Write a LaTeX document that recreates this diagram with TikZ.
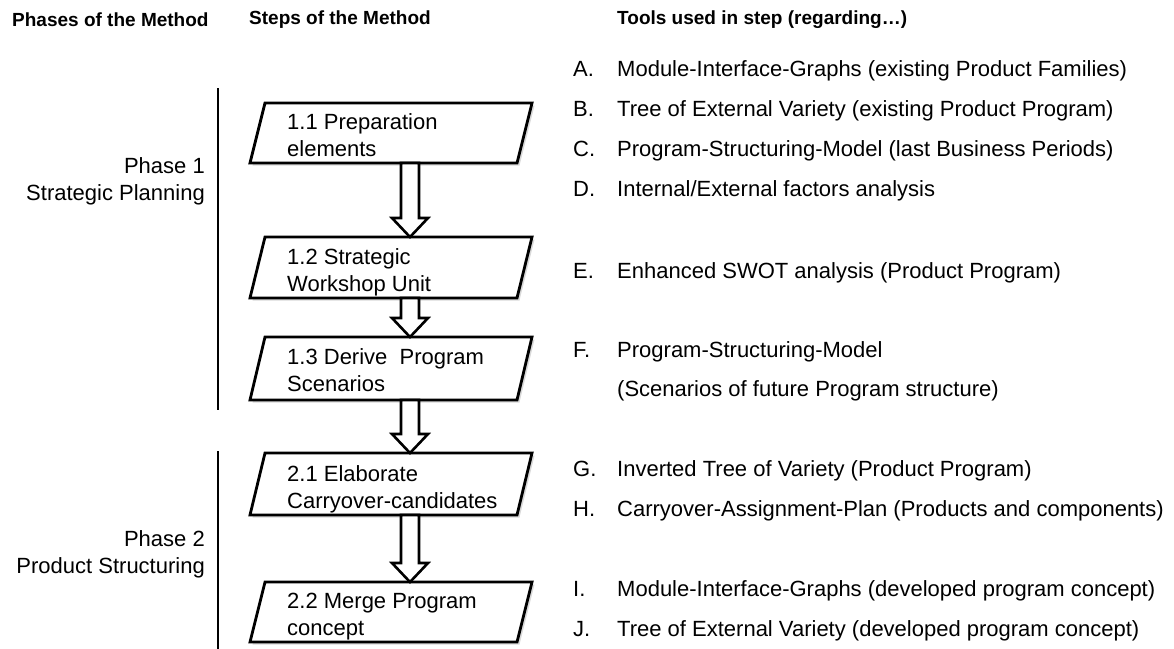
\documentclass[tikz,border=0pt]{standalone}
\usepackage{fontspec}
\setmainfont{Liberation Sans}
\usetikzlibrary{calc,shadows}
\begin{document}
\begin{tikzpicture}[x=1pt,y=-1pt,
  body/.style={font=\fontsize{22}{27}\selectfont, inner sep=0pt},
  head/.style={font=\fontsize{19}{23}\selectfont\bfseries, inner sep=0pt, anchor=west},
  steptext/.style={body, align=left, anchor=west},
  listtext/.style={body, anchor=base west},
  stepshape/.style={draw, line width=2.8pt, fill=white, line join=miter,
    drop shadow={shadow xshift=2.5pt, shadow yshift=-2.5pt, opacity=0.3}},
  phaseline/.style={line width=2.6pt},
  blockarrow/.style={draw, line width=2.6pt, fill=white, line join=miter,
    to path={let \p1=(\tikztostart), \p2=(\tikztotarget) in
      (\x1-9pt,\y1) -- (\x1-9pt,\y2+19pt) -- (\x1-18pt,\y2+19pt) -- (\x2,\y2)
      -- (\x1+18pt,\y2+19pt) -- (\x1+9pt,\y2+19pt) -- (\x1+9pt,\y1) -- cycle}},
]
\useasboundingbox (0,0) rectangle (1174,648);

% headers
\node[head] (h1) at (12,20) {Phases of the Method};
\node[head] (h2) at (249,20) {Steps of the Method};
\node[head] (h3) at (617,20) {Tools used in step (regarding…)};

% phases
\draw[phaseline] (218,88) coordinate (p1a) -- (218,410) coordinate (p1b);
\draw[phaseline] (218,451) coordinate (p2a) -- (218,650) coordinate (p2b);
\node[body, align=right, anchor=east] (ph1) at (205,181) {Phase 1\\Strategic Planning};
\node[body, align=right, anchor=east] (ph2) at (205,554) {Phase 2\\Product Structuring};

% step boxes
\draw[stepshape] (250,163) -- (265,103) -- (532,103) -- (517,163) -- cycle;
\draw[stepshape] (250,298) -- (265,237) -- (532,237) -- (517,298) -- cycle;
\draw[stepshape] (250,400) -- (265,337) -- (532,337) -- (517,400) -- cycle;
\draw[stepshape] (250,515) -- (265,453) -- (532,453) -- (517,515) -- cycle;
\draw[stepshape] (250,642) -- (265,582) -- (532,582) -- (517,642) -- cycle;

\node[steptext] (s11) at (287,137.6) {\strut 1.1 Preparation\\\strut elements};
\node[steptext] (s12) at (287,272.6) {\strut 1.2 Strategic\\\strut Workshop Unit};
\node[steptext] (s13) at (287,372.6) {\strut 1.3 Derive\ \ Program\\\strut Scenarios};
\node[steptext] (s21) at (287,489.1) {\strut 2.1 Elaborate\\\strut Carryover-candidates};
\node[steptext] (s22) at (287,616.1) {\strut 2.2 Merge Program\\\strut concept};

% arrow end points
\coordinate (a1s) at (410,163); \coordinate (a1e) at (410,237);
\coordinate (a2s) at (410,298); \coordinate (a2e) at (410,337);
\coordinate (a3s) at (410,400); \coordinate (a3e) at (410,453);
\coordinate (a4s) at (410,515); \coordinate (a4e) at (410,582);
\path[blockarrow] (a1s) to (a1e);
\path[blockarrow] (a2s) to (a2e);
\path[blockarrow] (a3s) to (a3e);
\path[blockarrow] (a4s) to (a4e);

% tools list
\node[listtext] (lA) at (573,76) {A.};
\node[listtext] (tA) at (617,76) {Module-Interface-Graphs (existing Product Families)};
\node[listtext] (lB) at (573,116) {B.};
\node[listtext] (tB) at (617,116) {Tree of External Variety (existing Product Program)};
\node[listtext] (lC) at (573,156) {C.};
\node[listtext] (tC) at (617,156) {Program-Structuring-Model (last Business Periods)};
\node[listtext] (lD) at (573,196) {D.};
\node[listtext] (tD) at (617,196) {Internal/External factors analysis};
\node[listtext] (lE) at (573,278) {E.};
\node[listtext] (tE) at (617,278) {Enhanced SWOT analysis (Product Program)};
\node[listtext] (lF) at (573,357) {F.};
\node[listtext] (tF) at (617,357) {Program-Structuring-Model};
\node[listtext] (tF2) at (617,396) {(Scenarios of future Program structure)};
\node[listtext] (lG) at (573,476) {G.};
\node[listtext] (tG) at (617,476) {Inverted Tree of Variety (Product Program)};
\node[listtext] (lH) at (573,516) {H.};
\node[listtext] (tH) at (617,516) {Carryover-Assignment-Plan (Products and components)};
\node[listtext] (lI) at (573,596) {I.};
\node[listtext] (tI) at (617,596) {Module-Interface-Graphs (developed program concept)};
\node[listtext] (lJ) at (573,636) {J.};
\node[listtext] (tJ) at (617,636) {Tree of External Variety (developed program concept)};
\end{tikzpicture}
\end{document}
